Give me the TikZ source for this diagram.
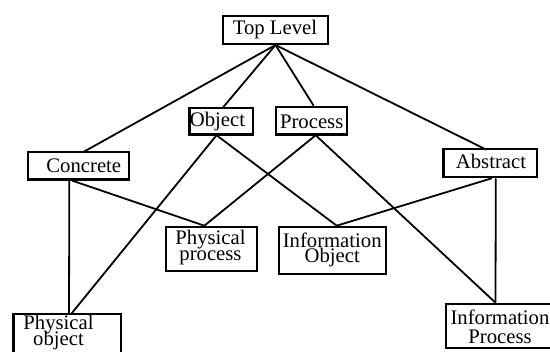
\documentclass[tikz,border=0pt]{standalone}
\usepackage{fontspec}
\setmainfont{Liberation Serif}
\newcommand\lblfontA{\fontsize{20.7}{15.5}\selectfont\lineskiplimit=-30pt\relax}
\newcommand\lblfontB{\fontsize{20.7}{18.5}\selectfont\lineskiplimit=-30pt\relax}
\begin{document}
\begin{tikzpicture}[x=1pt,y=-1pt,
  box/.style={draw,line width=2.2pt,inner sep=0pt,rectangle},
  conn/.style={line width=1.8pt},
  lbl/.style={inner sep=0pt,anchor=base,align=center,font=\lblfontA}]
\useasboundingbox (0,0) rectangle (550,352);
\clip (0,0) rectangle (550,352);
% boxes
\node[box,minimum width=104.8pt,minimum height=27.8pt] (top) at (275.5,30) {};
\node[box,minimum width=63.5pt,minimum height=26.2pt] (object) at (221.15,121.5) {};
\node[box,minimum width=71.1pt,minimum height=27.8pt] (process) at (311.65,120.7) {};
\node[box,minimum width=101.1pt,minimum height=27.5pt] (concrete) at (78.35,165.85) {};
\node[box,minimum width=93.8pt,minimum height=28.4pt] (abstract) at (490.3,163) {};
\node[box,minimum width=90.5pt,minimum height=44.4pt] (pproc) at (211.35,249) {};
\node[box,minimum width=106.8pt,minimum height=47.1pt] (iobj) at (332.2,250.35) {};
\node[box,minimum width=107.2pt,minimum height=54.5pt] (pobj) at (67,341.65) {};
\node[box,minimum width=117.8pt,minimum height=44.1pt] (iproc) at (505,325.85) {};
% labels
\node[lbl] (ttop) at (275,35) {Top Level};
\node[lbl] (tobject) at (217.5,127) {Object};
\node[lbl] (tprocess) at (311.7,129) {Process};
\node[lbl] (tconcrete) at (83.8,173) {Concrete};
\node[lbl] (tabstract) at (491,169) {Abstract};
\node[lbl] (tpproc) at (210.5,260.5) {Physical\\process};
\node[lbl] (tiobj) at (332.2,263) {Information\\Object};
\node[lbl] (tpobj) at (58.5,345.5) {Physical\\object};
\node[lbl,font=\lblfontB] (tiproc) at (500,343.5) {Information\\Process};
% connectors
\draw[conn] (top.south) -- ([xshift=5pt,yshift=-1pt]concrete.north);
\draw[conn] (top.south) -- ([xshift=2pt]object.north);
\draw[conn] (top.south) -- ([xshift=2pt]process.north);
\draw[conn] (top.south) -- ([xshift=-4pt,yshift=-2pt]abstract.north);
\draw[conn] ([xshift=-5pt]object.south) -- ([xshift=4.7pt]pobj.north);
\draw[conn] ([xshift=-4pt]object.south) -- ([xshift=4.5pt]iobj.north);
\draw[conn] ([xshift=3.5pt]process.south) -- ([xshift=-7pt]pproc.north);
\draw[conn] ([xshift=4.5pt]process.south) -- ([xshift=-9.5pt]iproc.north);
\draw[conn] ([xshift=-9pt]concrete.south) -- ([xshift=2pt]pobj.north);
\draw[conn] ([xshift=-6pt]concrete.south) -- ([xshift=-7pt]pproc.north);
\draw[conn] ([xshift=1.5pt]abstract.south) -- ([xshift=4.5pt]iobj.north);
\draw[conn] ([xshift=5.5pt]abstract.south) -- ([xshift=-9.5pt]iproc.north);
\end{tikzpicture}
\end{document}
